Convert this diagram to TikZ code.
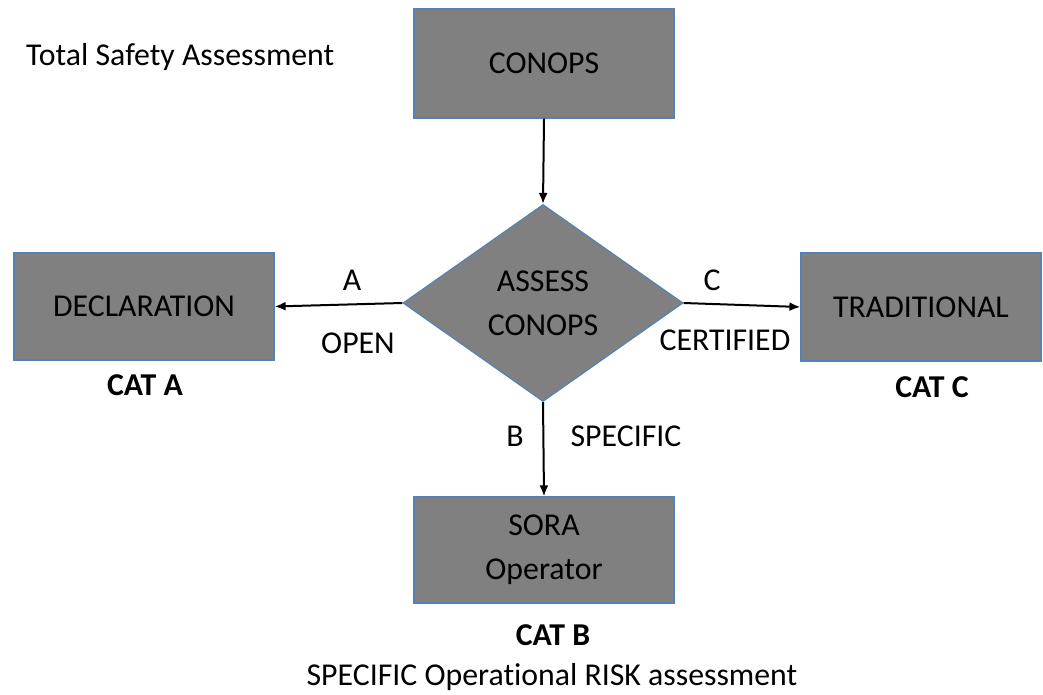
\documentclass[tikz,border=0pt]{standalone}
\usepackage{fontspec}
\setmainfont{Carlito}[Ligatures={NoCommon}]
\usetikzlibrary{shapes.geometric,arrows.meta}
\definecolor{boxfill}{RGB}{128,128,128}
\definecolor{boxedge}{RGB}{84,130,180}
\begin{document}
\begin{tikzpicture}[x=1pt,y=-1pt,
  every node/.style={font=\fontsize{31.8}{44}\selectfont, inner sep=0pt, align=center},
  box/.style={rectangle, fill=boxfill, draw=boxedge, line width=1.2pt},
  dia/.style={diamond, fill=boxfill, draw=boxedge, line width=1.2pt},
  conn/.style={line width=2pt, -{Latex[length=11pt,width=9pt]}},
  lab/.style={},
  cat/.style={font=\fontsize{31.8}{44}\selectfont\bfseries}]
\useasboundingbox (0,0) rectangle (1043,695);
\node[box, minimum width=260pt, minimum height=109pt] (conops) at (544,63.5) {CONOPS};
\node[dia, minimum width=280pt, minimum height=197pt] (assess) at (543,303) {ASSESS\\CONOPS};
\node[box, minimum width=260pt, minimum height=107pt] (decl) at (144,306.5) {DECLARATION};
\node[box, minimum width=240pt, minimum height=108pt] (trad) at (921,307) {TRADITIONAL};
\node[box, minimum width=260pt, minimum height=106pt] (sora) at (544,550) {SORA\\Operator};
\draw[conn] (conops.south) -- (assess.north);
\draw[conn] (assess.west) -- (decl.east);
\draw[conn] (assess.east) -- (trad.west);
\draw[conn] (assess.south) -- (sora.north);
\node[lab, anchor=west] (title) at (26,57) {Total Safety Assessment};
\node[lab] (la) at (352,280) {A};
\node[lab] (lopen) at (358,343) {OPEN};
\node[lab] (lc) at (712,280) {C};
\node[lab] (lcert) at (725,340) {CERTIFIED};
\node[lab] (lb) at (515,436) {B};
\node[lab] (lspec) at (626,436) {SPECIFIC};
\node[cat] (cata) at (145,385) {CAT A};
\node[cat] (catc) at (932,387) {CAT C};
\node[cat] (catb) at (553,635) {CAT B};
\node[lab] (sora2) at (552,677) {SPECIFIC Operational RISK assessment};
\end{tikzpicture}
\end{document}
